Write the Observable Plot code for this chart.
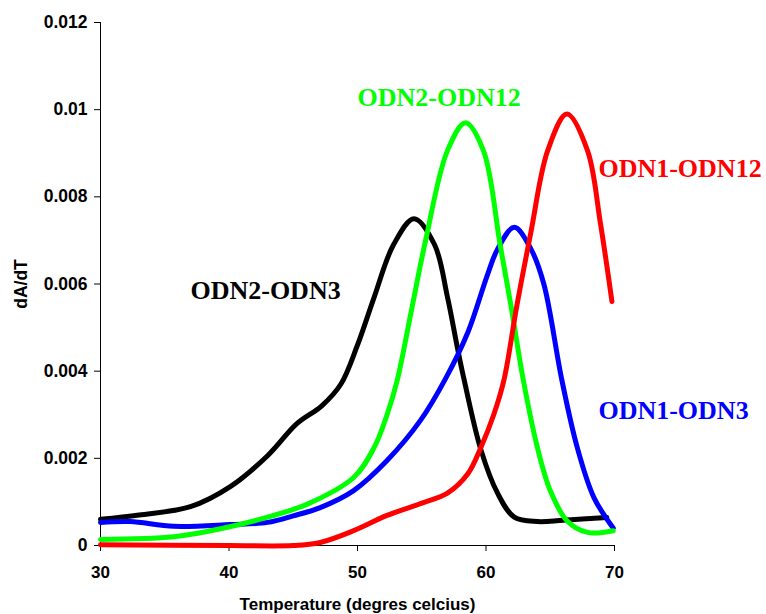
<!DOCTYPE html>
<html>
<head>
<meta charset="utf-8">
<script src="https://cdn.jsdelivr.net/npm/d3@7"></script>
<script src="https://cdn.jsdelivr.net/npm/@observablehq/plot@0.6"></script>
<style>
  body { margin: 0; background: #fff; }
  #chart svg { font-family: "Liberation Sans", Arial, sans-serif; }
</style>
</head>
<body>
<div id="chart"></div>
<script>
// Temperature (°C) and dA/dT readings for each duplex
const blackT = [30, 33, 37, 40.1, 43, 45.3, 47.2, 48.7, 50, 51.3, 52.8, 54.4, 56, 57, 57.8, 58.3, 59.6, 60.9, 62.2, 64, 66, 69.4];
const blackY = [0.0006, 0.0007, 0.00089, 0.00135, 0.00206, 0.0028, 0.0032, 0.0037, 0.0046, 0.0057, 0.0069, 0.0075, 0.0069, 0.0057, 0.0045, 0.0038, 0.0022, 0.0012, 0.00065, 0.00055, 0.00058, 0.00064];

const blueT = [30, 32.3, 35.7, 40.1, 43, 45, 47.1, 49.7, 52.3, 54.9, 56.8, 58.6, 60.1, 60.9, 62.2, 63.5, 64.5, 65.9, 67.1, 68.4, 69.9];
const blueY = [0.00053, 0.00055, 0.00044, 0.00048, 0.00053, 0.00068, 0.00087, 0.00126, 0.00195, 0.00287, 0.0038, 0.0049, 0.0062, 0.0068, 0.0073, 0.0068, 0.0060, 0.0038, 0.00225, 0.0011, 0.0004];

const greenT = [30, 35.7, 39.6, 43, 46.1, 49.7, 51.3, 52.3, 53.1, 54.2, 55.3, 57, 58.4, 59.8, 61.1, 62, 62.9, 64, 65, 66.3, 67.9, 69.9];
const greenY = [0.00014, 0.0002, 0.0004, 0.00065, 0.00095, 0.00156, 0.00225, 0.003, 0.0038, 0.0054, 0.0070, 0.00906, 0.0097, 0.00906, 0.0069, 0.0054, 0.0038, 0.00225, 0.00126, 0.00057, 0.0003, 0.00034];

const redT = [30, 40, 45, 47.1, 49.7, 52.3, 54.9, 57, 58.6, 59.6, 60.6, 61.4, 62.4, 63.5, 64.8, 66.3, 67.9, 68.9, 69.8];
const redY = [0.00002, 0.0, 0.0, 0.00007, 0.00034, 0.00069, 0.00096, 0.0012, 0.00165, 0.00225, 0.003, 0.0038, 0.0055, 0.0072, 0.00906, 0.0099, 0.00906, 0.0074, 0.0056];

const seriesNames = ["ODN2-ODN3", "ODN1-ODN3", "ODN2-ODN12", "ODN1-ODN12"];
const seriesColors = ["#000000", "#0000ff", "#00ff00", "#ff0000"];

// Label anchor points (data coordinates)
const labelT = [37, 68.75, 50, 68.75];
const labelY = [0.00585, 0.0031, 0.01027, 0.00865];

const xTicks = [30, 40, 50, 60, 70];
const yTicks = [0, 0.002, 0.004, 0.006, 0.008, 0.01, 0.012];

const allT = [blackT, blueT, greenT, redT];
const allY = [blackY, blueY, greenY, redY];
const rows = [];
allT.forEach((ts, s) => ts.forEach((t, i) => rows.push({series: seriesNames[s], T: t, y: allY[s][i]})));
const labels = seriesNames.map((n, i) => ({series: n, T: labelT[i], y: labelY[i], color: seriesColors[i]}));

const chart = Plot.plot({
  width: 766,
  height: 614,
  marginLeft: 100,
  marginRight: 152,
  marginTop: 22,
  marginBottom: 69,
  style: {fontFamily: "'Liberation Sans', Arial, sans-serif", background: "#fff"},
  x: {domain: [30, 70]},
  y: {domain: [0, 0.012]},
  color: {domain: seriesNames, range: seriesColors},
  marks: [
    Plot.axisX({ticks: xTicks, tickSize: 6, tickPadding: 14, fontSize: 17, fontWeight: "bold", label: "Temperature (degres celcius)", labelAnchor: "center", labelOffset: 64, labelArrow: "none", color: "#000"}),
    Plot.axisY({ticks: yTicks, tickFormat: d3.format("~g"), tickSize: 6, tickPadding: 7, fontSize: 17.5, fontWeight: "bold", label: "dA/dT", labelAnchor: "center", labelOffset: 86, labelArrow: "none", color: "#000"}),
    Plot.ruleX([30], {stroke: "#000", strokeWidth: 1}),
    Plot.ruleY([0], {stroke: "#000", strokeWidth: 1}),
    Plot.line(rows, {x: "T", y: "y", z: "series", stroke: "series", strokeWidth: 5, curve: "catmull-rom"}),
    Plot.text(labels, {x: "T", y: "y", text: "series", fill: "color", textAnchor: "start", fontSize: 26, fontWeight: "bold", fontFamily: "'Liberation Serif', 'Times New Roman', serif"})
  ]
});
document.getElementById("chart").appendChild(chart);
</script>
</body>
</html>
